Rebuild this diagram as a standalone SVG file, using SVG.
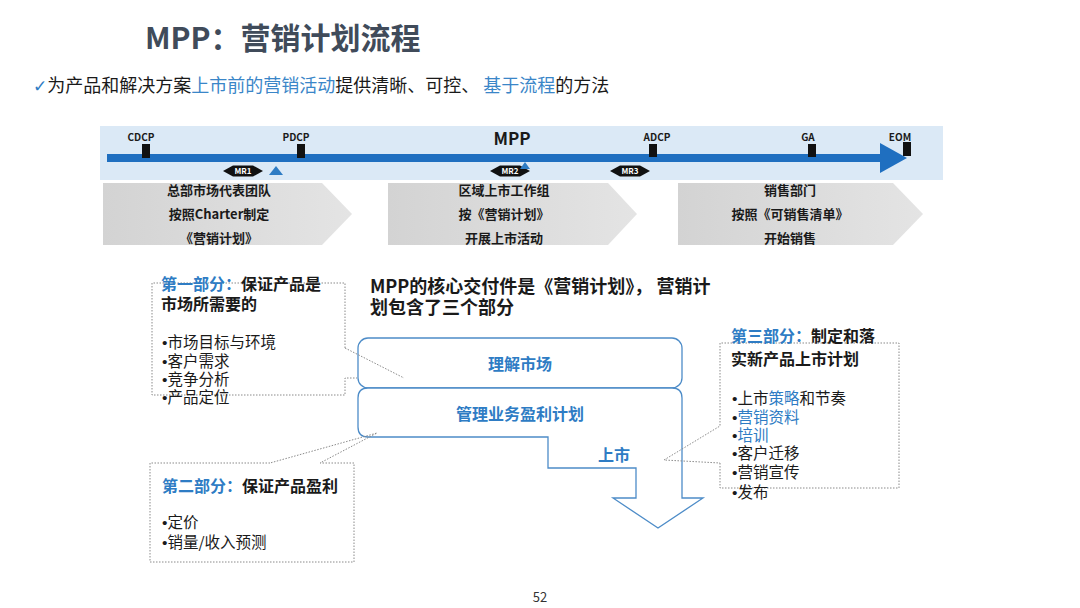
<svg xmlns="http://www.w3.org/2000/svg" width="1080" height="608" viewBox="0 0 1080 608">
<defs>
<style>
text{font-family:"Noto Sans CJK SC","Noto Sans",sans-serif;}
.blue{fill:#2e7cc4}
.bu{font-family:"Liberation Sans",sans-serif}
.ms{font-size:10px;font-weight:bold;fill:#1a1a1a;text-anchor:middle}
.mr{fill:#111}
.mrt{font-size:8px;font-weight:bold;fill:#fff;text-anchor:middle}
.chev{fill:url(#g)}
.ct{font-size:13px;font-weight:bold;fill:#1a1a1a;text-anchor:middle}
.dot{fill:none;stroke:#8a8a8a;stroke-width:1;stroke-dasharray:1.5 1.5}
.rb{fill:#fff;stroke:#4d8cc8;stroke-width:1.3}
.bt{font-size:16px;font-weight:bold;fill:#2e7cc4;text-anchor:middle}
.h{font-size:16px;font-weight:bold;fill:#1a1a1a}
.li{font-size:15.5px;fill:#1a1a1a}
.tri{fill:#2e7cc4}
.blk{fill:#111}
</style>
<linearGradient id="g" x1="0" x2="1"><stop offset="0" stop-color="#d3d3d3"/><stop offset="1" stop-color="#e4e4e4"/></linearGradient>
</defs>
<rect width="1080" height="608" fill="#fff"/>

<g id="title">
<text x="145" y="49" font-size="30" font-weight="bold" fill="#404b5a">MPP：营销计划流程</text>
<text x="33" y="92" font-size="18" fill="#1a1a1a"><tspan fill="#2e7cc4" font-family="DejaVu Sans" font-size="17">✓</tspan>为产品和解决方案<tspan fill="#3a86c8">上市前的营销活动</tspan>提供清晰、可控、 <tspan fill="#3a86c8">基于流程</tspan>的方法</text>
</g>

<g id="timeline">
<rect x="100" y="126" width="843" height="54" fill="#dbe9f6"/>
<rect x="107" y="154" width="776" height="8" fill="#1f6fc0"/>
<polygon points="880,143 907,158 880,173" fill="#1f6fc0"/>
<rect class="blk" x="142" y="144" width="8" height="14"/>
<rect class="blk" x="297" y="144" width="8" height="14"/>
<rect class="blk" x="649" y="144" width="8" height="13"/>
<rect class="blk" x="808" y="144" width="8" height="13"/>
<rect class="blk" x="903" y="142" width="8" height="14"/>
<text class="ms" x="141" y="141">CDCP</text>
<text class="ms" x="296" y="141">PDCP</text>
<text x="512" y="145" font-size="17" font-weight="bold" fill="#1a1a1a" text-anchor="middle">MPP</text>
<text class="ms" x="657" y="141">ADCP</text>
<text class="ms" x="808" y="141">GA</text>
<text class="ms" x="900" y="141">EOM</text>
</g>

<g id="MR1">
<polygon class="mr" points="223,171 233,165.5 253,165.5 263,171 253,176.5 233,176.5"/>
<text class="mrt" x="243" y="174">MR1</text>
<polygon class="tri" points="269,175 276,166 283,175"/>
</g>
<g id="MR2">
<polygon class="mr" points="490,171 500,165.5 520,165.5 530,171 520,176.5 500,176.5"/>
<text class="mrt" x="510" y="174">MR2</text>
<polygon class="tri" points="520,169 525,162 530,169"/>
</g>
<g id="MR3">
<polygon class="mr" points="610,171 620,165.5 640,165.5 650,171 640,176.5 620,176.5"/>
<text class="mrt" x="630" y="174">MR3</text>
</g>

<g id="phase1">
<polygon class="chev" points="103,183 322,183 352,214 322,245 103,245"/>
<text class="ct" x="219" y="194.5">总部市场代表团队</text>
<text class="ct" x="219" y="218.5">按照Charter制定</text>
<text class="ct" x="219" y="242.5">《营销计划》</text>
</g>
<g id="phase2">
<polygon class="chev" points="388,183 608,183 637,214 608,245 388,245"/>
<text class="ct" x="504" y="194.5">区域上市工作组</text>
<text class="ct" x="504" y="218.5">按《营销计划》</text>
<text class="ct" x="504" y="242.5">开展上市活动</text>
</g>
<g id="phase3">
<polygon class="chev" points="678,183 893,183 923,214 893,245 678,245"/>
<text class="ct" x="790" y="194.5">销售部门</text>
<text class="ct" x="790" y="218.5">按照《可销售清单》</text>
<text class="ct" x="790" y="242.5">开始销售</text>
</g>

<g id="core-title">
<text x="370" y="293" font-size="18" font-weight="bold" fill="#1a1a1a">MPP的核心交付件是《营销计划》， 营销计</text>
<text x="370" y="314" font-size="18" font-weight="bold" fill="#1a1a1a">划包含了三个部分</text>
</g>

<g id="understand-market">
<rect class="rb" x="358" y="338" width="324" height="50" rx="10"/>
<text class="bt" x="520" y="370">理解市场</text>
</g>
<g id="profit-plan">
<path class="rb" d="M368,388 H672 Q682,388 682,398 V498 H703 L658,528 L613,498 H636 V468 H548 V437 H368 Q358,437 358,427 V398 Q358,388 368,388 Z"/>
<text class="bt" x="520" y="420">管理业务盈利计划</text>
<text class="bt" x="614" y="461">上市</text>
</g>

<g id="connectors">
<path class="dot" d="M345,348 V283 H152 V395 H345 V378 H357"/>
<path class="dot" d="M345,348 L404,378"/>
<path class="dot" d="M720,463 V488 H899 V343 H720 V426 L664,460 Z"/>
<path class="dot" d="M270,463 H150 V562 H354 V463 H320 L377,433 Z"/>
</g>

<g id="part1">
<text class="h" x="161" y="290"><tspan class="blue">第一部分：</tspan>保证产品是</text>
<text class="h" x="161" y="310">市场所需要的</text>
<text class="li" x="162" y="347.5"><tspan class="bu">•</tspan>市场目标与环境</text>
<text class="li" x="162" y="366.5"><tspan class="bu">•</tspan>客户需求</text>
<text class="li" x="162" y="385"><tspan class="bu">•</tspan>竞争分析</text>
<text class="li" x="162" y="403"><tspan class="bu">•</tspan>产品定位</text>
</g>

<g id="part2">
<text class="h" x="162" y="492"><tspan class="blue">第二部分：</tspan>保证产品盈利</text>
<text class="li" x="162" y="528"><tspan class="bu">•</tspan>定价</text>
<text class="li" x="162" y="547.5"><tspan class="bu">•</tspan>销量/收入预测</text>
</g>

<g id="part3">
<text class="h" x="731" y="342"><tspan class="blue">第三部分：</tspan>制定和落</text>
<text class="h" x="731" y="365">实新产品上市计划</text>
<text class="li" x="732" y="403.5"><tspan class="bu">•</tspan>上市<tspan class="blue">策略</tspan>和节奏</text>
<text class="li" x="732" y="422.5"><tspan class="bu">•</tspan><tspan class="blue">营销资料</tspan></text>
<text class="li" x="732" y="440.5"><tspan class="bu">•</tspan><tspan class="blue">培训</tspan></text>
<text class="li" x="732" y="458.5"><tspan class="bu">•</tspan>客户迁移</text>
<text class="li" x="732" y="477.5"><tspan class="bu">•</tspan>营销宣传</text>
<text class="li" x="732" y="497.5"><tspan class="bu">•</tspan>发布</text>
</g>

<text x="540" y="602" font-size="13" fill="#333" text-anchor="middle">52</text>
</svg>
